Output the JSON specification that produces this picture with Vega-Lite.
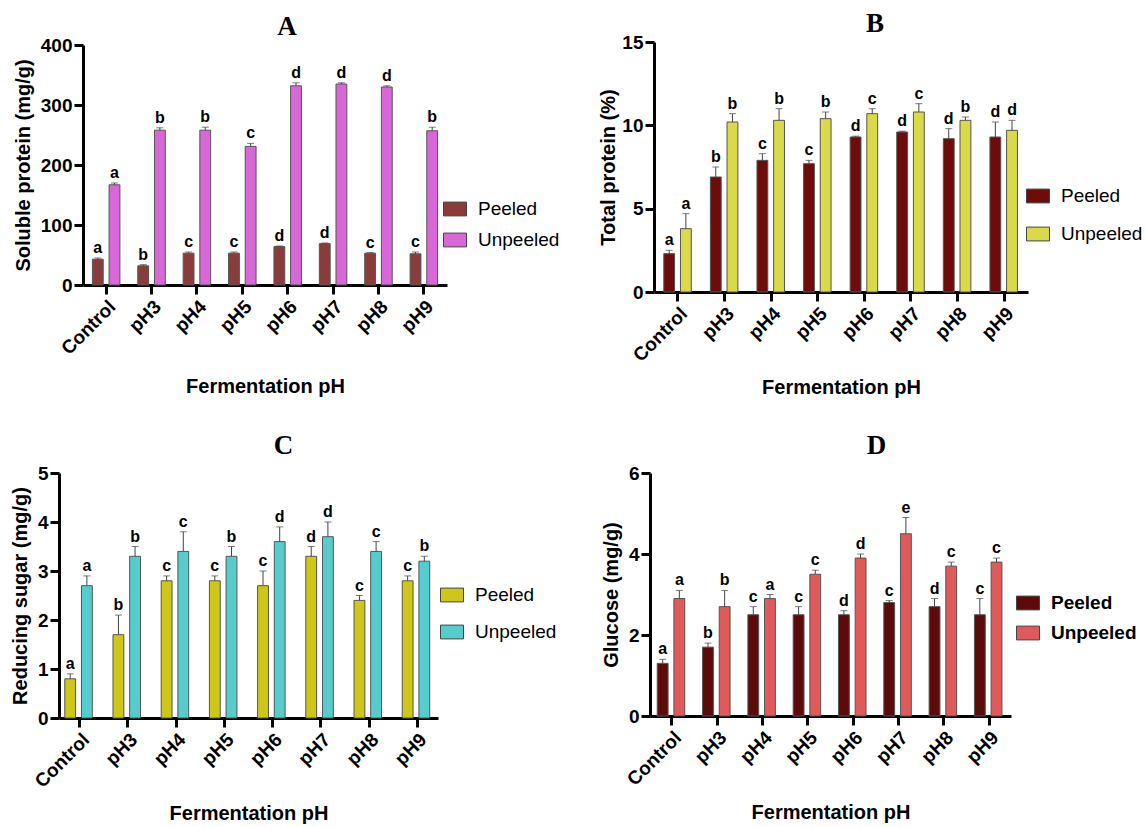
{
  "$schema": "https://vega.github.io/schema/vega-lite/v6.json",
  "background": "white",
  "autosize": {"type": "none"},
  "padding": {"left": 59, "top": 42, "right": 1087, "bottom": 785},
  "datasets": {
    "A": [
      {"pH": "Control", "group": "Peeled", "value": 43, "upper": 45, "letter": "a"},
      {"pH": "Control", "group": "Unpeeled", "value": 167, "upper": 170, "letter": "a"},
      {"pH": "pH3", "group": "Peeled", "value": 32, "upper": 34, "letter": "b"},
      {"pH": "pH3", "group": "Unpeeled", "value": 258, "upper": 262, "letter": "b"},
      {"pH": "pH4", "group": "Peeled", "value": 53, "upper": 55, "letter": "c"},
      {"pH": "pH4", "group": "Unpeeled", "value": 258, "upper": 263, "letter": "b"},
      {"pH": "pH5", "group": "Peeled", "value": 53, "upper": 55, "letter": "c"},
      {"pH": "pH5", "group": "Unpeeled", "value": 231, "upper": 236, "letter": "c"},
      {"pH": "pH6", "group": "Peeled", "value": 64, "upper": 65, "letter": "d"},
      {"pH": "pH6", "group": "Unpeeled", "value": 332, "upper": 337, "letter": "d"},
      {"pH": "pH7", "group": "Peeled", "value": 69, "upper": 70, "letter": "d"},
      {"pH": "pH7", "group": "Unpeeled", "value": 335, "upper": 337, "letter": "d"},
      {"pH": "pH8", "group": "Peeled", "value": 53, "upper": 54, "letter": "c"},
      {"pH": "pH8", "group": "Unpeeled", "value": 330, "upper": 332, "letter": "d"},
      {"pH": "pH9", "group": "Peeled", "value": 52, "upper": 55, "letter": "c"},
      {"pH": "pH9", "group": "Unpeeled", "value": 257, "upper": 263, "letter": "b"}
    ],
    "B": [
      {"pH": "Control", "group": "Peeled", "value": 2.3, "upper": 2.5, "letter": "a"},
      {"pH": "Control", "group": "Unpeeled", "value": 3.8, "upper": 4.7, "letter": "a"},
      {"pH": "pH3", "group": "Peeled", "value": 6.9, "upper": 7.5, "letter": "b"},
      {"pH": "pH3", "group": "Unpeeled", "value": 10.2, "upper": 10.7, "letter": "b"},
      {"pH": "pH4", "group": "Peeled", "value": 7.9, "upper": 8.3, "letter": "c"},
      {"pH": "pH4", "group": "Unpeeled", "value": 10.3, "upper": 11.0, "letter": "b"},
      {"pH": "pH5", "group": "Peeled", "value": 7.7, "upper": 7.9, "letter": "c"},
      {"pH": "pH5", "group": "Unpeeled", "value": 10.4, "upper": 10.8, "letter": "b"},
      {"pH": "pH6", "group": "Peeled", "value": 9.3, "upper": 9.35, "letter": "d"},
      {"pH": "pH6", "group": "Unpeeled", "value": 10.7, "upper": 11.0, "letter": "c"},
      {"pH": "pH7", "group": "Peeled", "value": 9.6, "upper": 9.65, "letter": "d"},
      {"pH": "pH7", "group": "Unpeeled", "value": 10.8, "upper": 11.3, "letter": "c"},
      {"pH": "pH8", "group": "Peeled", "value": 9.2, "upper": 9.8, "letter": "d"},
      {"pH": "pH8", "group": "Unpeeled", "value": 10.3, "upper": 10.5, "letter": "b"},
      {"pH": "pH9", "group": "Peeled", "value": 9.3, "upper": 10.2, "letter": "d"},
      {"pH": "pH9", "group": "Unpeeled", "value": 9.7, "upper": 10.3, "letter": "d"}
    ],
    "C": [
      {"pH": "Control", "group": "Peeled", "value": 0.8, "upper": 0.9, "letter": "a"},
      {"pH": "Control", "group": "Unpeeled", "value": 2.7, "upper": 2.9, "letter": "a"},
      {"pH": "pH3", "group": "Peeled", "value": 1.7, "upper": 2.1, "letter": "b"},
      {"pH": "pH3", "group": "Unpeeled", "value": 3.3, "upper": 3.5, "letter": "b"},
      {"pH": "pH4", "group": "Peeled", "value": 2.8, "upper": 2.9, "letter": "c"},
      {"pH": "pH4", "group": "Unpeeled", "value": 3.4, "upper": 3.8, "letter": "c"},
      {"pH": "pH5", "group": "Peeled", "value": 2.8, "upper": 2.9, "letter": "c"},
      {"pH": "pH5", "group": "Unpeeled", "value": 3.3, "upper": 3.5, "letter": "b"},
      {"pH": "pH6", "group": "Peeled", "value": 2.7, "upper": 3.0, "letter": "c"},
      {"pH": "pH6", "group": "Unpeeled", "value": 3.6, "upper": 3.9, "letter": "d"},
      {"pH": "pH7", "group": "Peeled", "value": 3.3, "upper": 3.5, "letter": "d"},
      {"pH": "pH7", "group": "Unpeeled", "value": 3.7, "upper": 4.0, "letter": "d"},
      {"pH": "pH8", "group": "Peeled", "value": 2.4, "upper": 2.5, "letter": "c"},
      {"pH": "pH8", "group": "Unpeeled", "value": 3.4, "upper": 3.6, "letter": "c"},
      {"pH": "pH9", "group": "Peeled", "value": 2.8, "upper": 2.9, "letter": "c"},
      {"pH": "pH9", "group": "Unpeeled", "value": 3.2, "upper": 3.3, "letter": "b"}
    ],
    "D": [
      {"pH": "Control", "group": "Peeled", "value": 1.3, "upper": 1.4, "letter": "a"},
      {"pH": "Control", "group": "Unpeeled", "value": 2.9, "upper": 3.1, "letter": "a"},
      {"pH": "pH3", "group": "Peeled", "value": 1.7, "upper": 1.8, "letter": "b"},
      {"pH": "pH3", "group": "Unpeeled", "value": 2.7, "upper": 3.1, "letter": "b"},
      {"pH": "pH4", "group": "Peeled", "value": 2.5, "upper": 2.7, "letter": "c"},
      {"pH": "pH4", "group": "Unpeeled", "value": 2.9, "upper": 3.0, "letter": "a"},
      {"pH": "pH5", "group": "Peeled", "value": 2.5, "upper": 2.7, "letter": "c"},
      {"pH": "pH5", "group": "Unpeeled", "value": 3.5, "upper": 3.6, "letter": "c"},
      {"pH": "pH6", "group": "Peeled", "value": 2.5, "upper": 2.6, "letter": "d"},
      {"pH": "pH6", "group": "Unpeeled", "value": 3.9, "upper": 4.0, "letter": "d"},
      {"pH": "pH7", "group": "Peeled", "value": 2.8, "upper": 2.85, "letter": "c"},
      {"pH": "pH7", "group": "Unpeeled", "value": 4.5, "upper": 4.9, "letter": "e"},
      {"pH": "pH8", "group": "Peeled", "value": 2.7, "upper": 2.9, "letter": "d"},
      {"pH": "pH8", "group": "Unpeeled", "value": 3.7, "upper": 3.8, "letter": "c"},
      {"pH": "pH9", "group": "Peeled", "value": 2.5, "upper": 2.9, "letter": "c"},
      {"pH": "pH9", "group": "Unpeeled", "value": 3.8, "upper": 3.9, "letter": "c"}
    ]
  },
  "columns": 2,
  "align": "all",
  "bounds": "flush",
  "spacing": {"row": 181, "column": 203},
  "resolve": {"scale": {"color": "independent"}},
  "concat": [
    {
      "width": 388, "height": 243,
      "title": {"text": "A", "dx": 34, "offset": -5},
      "data": {"name": "A"},
      "encoding": {
        "x": {"field": "pH", "type": "nominal", "sort": ["Control","pH3","pH4","pH5","pH6","pH7","pH8","pH9"], "scale": {"range": [24, 388], "paddingInner": 0.394, "paddingOuter": 0.207}, "axis": {"labelAngle": -45, "title": "Fermentation pH", "titlePadding": 18, "labelPadding": 3}},
        "xOffset": {"field": "group", "type": "nominal", "scale": {"paddingInner": 0.35}}
      },
      "layer": [
        {"mark": {"type": "bar", "stroke": "#555555", "strokeWidth": 1},
         "encoding": {
           "y": {"field": "value", "type": "quantitative", "title": "Soluble protein (mg/g)", "scale": {"domain": [0, 400], "nice": false, "range": [243, 3]}, "axis": {"values": [0,100,200,300,400], "offset": -24, "titlePadding": 7}},
           "color": {"field": "group", "type": "nominal", "scale": {"range": ["#8a3c3c", "#d868d8"]},
             "legend": {"orient": "none", "legendX": 384, "legendY": 155, "rowPadding": 9}}
         }},
        {"mark": {"type": "rule", "color": "#444444", "strokeWidth": 1},
         "encoding": {"y": {"field": "value", "type": "quantitative", "title": "Soluble protein (mg/g)"}, "y2": {"field": "upper"}}},
        {"mark": {"type": "tick", "color": "#444444", "thickness": 1, "size": 7},
         "encoding": {"y": {"field": "upper", "type": "quantitative", "title": "Soluble protein (mg/g)"}}},
        {"mark": {"type": "text", "baseline": "bottom", "dy": -2, "fontWeight": "bold", "fontSize": 16, "font": "Liberation Sans", "color": "black"},
         "encoding": {"y": {"field": "upper", "type": "quantitative", "title": "Soluble protein (mg/g)"}, "text": {"field": "letter"}}}
      ]
    },
    {
      "width": 378, "height": 250,
      "title": {"text": "B", "dx": 36, "offset": -5},
      "data": {"name": "B"},
      "encoding": {
        "x": {"field": "pH", "type": "nominal", "sort": ["Control","pH3","pH4","pH5","pH6","pH7","pH8","pH9"], "scale": {"range": [4, 378], "paddingInner": 0.393, "paddingOuter": 0.21}, "axis": {"labelAngle": -45, "title": "Fermentation pH", "titlePadding": 12, "labelPadding": 3}},
        "xOffset": {"field": "group", "type": "nominal", "scale": {"paddingInner": 0.35}}
      },
      "layer": [
        {"mark": {"type": "bar", "stroke": "#555555", "strokeWidth": 1},
         "encoding": {
           "y": {"field": "value", "type": "quantitative", "title": "Total protein (%)", "scale": {"domain": [0, 15], "nice": false}, "axis": {"values": [0,5,10,15], "offset": -4, "titlePadding": 3}},
           "color": {"field": "group", "type": "nominal", "scale": {"range": ["#6e0c0c", "#d9d94a"]},
             "legend": {"orient": "none", "legendX": 376, "legendY": 142, "rowPadding": 16}}
         }},
        {"mark": {"type": "rule", "color": "#444444", "strokeWidth": 1},
         "encoding": {"y": {"field": "value", "type": "quantitative", "title": "Total protein (%)"}, "y2": {"field": "upper"}}},
        {"mark": {"type": "tick", "color": "#444444", "thickness": 1, "size": 7},
         "encoding": {"y": {"field": "upper", "type": "quantitative", "title": "Total protein (%)"}}},
        {"mark": {"type": "text", "baseline": "bottom", "dy": -2, "fontWeight": "bold", "fontSize": 16, "font": "Liberation Sans", "color": "black"},
         "encoding": {"y": {"field": "upper", "type": "quantitative", "title": "Total protein (%)"}, "text": {"field": "letter"}}}
      ]
    },
    {
      "width": 379, "height": 245,
      "title": {"text": "C", "dx": 35, "offset": 4},
      "data": {"name": "C"},
      "encoding": {
        "x": {"field": "pH", "type": "nominal", "sort": ["Control","pH3","pH4","pH5","pH6","pH7","pH8","pH9"], "scale": {"paddingInner": 0.378, "paddingOuter": 0.12}, "axis": {"labelAngle": -45, "title": "Fermentation pH", "titlePadding": 12, "labelPadding": 3}},
        "xOffset": {"field": "group", "type": "nominal", "scale": {"paddingInner": 0.35}}
      },
      "layer": [
        {"mark": {"type": "bar", "stroke": "#555555", "strokeWidth": 1},
         "encoding": {
           "y": {"field": "value", "type": "quantitative", "title": "Reducing sugar (mg/g)", "scale": {"domain": [0, 5], "nice": false}, "axis": {"values": [0,1,2,3,4,5], "titlePadding": 7}},
           "color": {"field": "group", "type": "nominal", "scale": {"range": ["#cfc61a", "#56cccc"]},
             "legend": {"orient": "none", "legendX": 381, "legendY": 110, "rowPadding": 15}}
         }},
        {"mark": {"type": "rule", "color": "#444444", "strokeWidth": 1},
         "encoding": {"y": {"field": "value", "type": "quantitative", "title": "Reducing sugar (mg/g)"}, "y2": {"field": "upper"}}},
        {"mark": {"type": "tick", "color": "#444444", "thickness": 1, "size": 7},
         "encoding": {"y": {"field": "upper", "type": "quantitative", "title": "Reducing sugar (mg/g)"}}},
        {"mark": {"type": "text", "baseline": "bottom", "dy": -2, "fontWeight": "bold", "fontSize": 16, "font": "Liberation Sans", "color": "black"},
         "encoding": {"y": {"field": "upper", "type": "quantitative", "title": "Reducing sugar (mg/g)"}, "text": {"field": "letter"}}}
      ]
    },
    {
      "width": 361, "height": 243,
      "title": {"text": "D", "dx": 46, "offset": 4},
      "data": {"name": "D"},
      "encoding": {
        "x": {"field": "pH", "type": "nominal", "sort": ["Control","pH3","pH4","pH5","pH6","pH7","pH8","pH9"], "scale": {"paddingInner": 0.353, "paddingOuter": 0.16}, "axis": {"labelAngle": -45, "title": "Fermentation pH", "titlePadding": 13, "labelPadding": 3}},
        "xOffset": {"field": "group", "type": "nominal", "scale": {"paddingInner": 0.35}}
      },
      "layer": [
        {"mark": {"type": "bar", "stroke": "#555555", "strokeWidth": 1},
         "encoding": {
           "y": {"field": "value", "type": "quantitative", "title": "Glucose (mg/g)", "scale": {"domain": [0, 6], "nice": false}, "axis": {"values": [0,2,4,6], "titlePadding": 7}},
           "color": {"field": "group", "type": "nominal", "scale": {"range": ["#5c0a0a", "#e05a5a"]},
             "legend": {"orient": "none", "legendX": 366, "legendY": 118, "rowPadding": 8, "labelFontWeight": "bold"}}
         }},
        {"mark": {"type": "rule", "color": "#444444", "strokeWidth": 1},
         "encoding": {"y": {"field": "value", "type": "quantitative", "title": "Glucose (mg/g)"}, "y2": {"field": "upper"}}},
        {"mark": {"type": "tick", "color": "#444444", "thickness": 1, "size": 7},
         "encoding": {"y": {"field": "upper", "type": "quantitative", "title": "Glucose (mg/g)"}}},
        {"mark": {"type": "text", "baseline": "bottom", "dy": -2, "fontWeight": "bold", "fontSize": 16, "font": "Liberation Sans", "color": "black"},
         "encoding": {"y": {"field": "upper", "type": "quantitative", "title": "Glucose (mg/g)"}, "text": {"field": "letter"}}}
      ]
    }
  ],
  "config": {
    "font": "Liberation Sans",
    "view": {"stroke": null},
    "axis": {
      "labelFont": "Liberation Sans", "labelFontWeight": "bold", "labelFontSize": 19, "labelColor": "black",
      "titleFont": "Liberation Sans", "titleFontWeight": "bold", "titleFontSize": 20, "titleColor": "black",
      "domainColor": "black", "domainWidth": 3, "tickColor": "black", "tickWidth": 3, "tickSize": 9, "labelPadding": 2, "grid": false
    },
    "title": {"font": "Liberation Serif", "fontSize": 27, "fontWeight": "bold", "color": "black"},
    "legend": {
      "title": null, "labelFont": "Liberation Sans", "labelFontSize": 19, "labelColor": "black", "labelOffset": 11,
      "symbolType": "M-1,-0.6H1V0.6H-1Z", "symbolSize": 529, "symbolStrokeColor": "#444444", "symbolStrokeWidth": 1, "symbolOpacity": 1
    }
  }
}
